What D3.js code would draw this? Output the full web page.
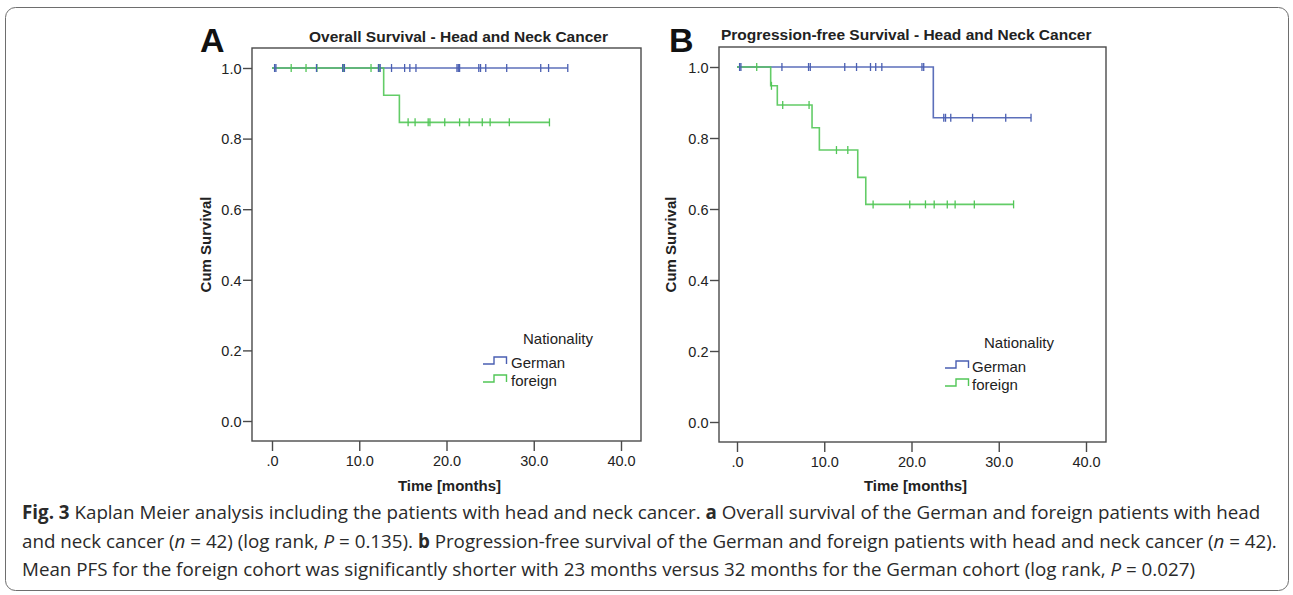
<!DOCTYPE html>
<html><head><meta charset="utf-8">
<script src="https://cdn.jsdelivr.net/npm/d3@7"></script>
<style>body{margin:0;background:#fff}svg{display:block}</style>
</head><body>
<svg id="c" width="1293" height="595"></svg>
<script>
// ---------- data ----------
const groups = ["German", "foreign"];
const xTickValues = [0, 10, 20, 30, 40];
const xTickLabels = [".0", "10.0", "20.0", "30.0", "40.0"];
const yTickValues = [0, 0.2, 0.4, 0.6, 0.8, 1.0];
const yTickLabels = ["0.0", "0.2", "0.4", "0.6", "0.8", "1.0"];

// Panel A: overall survival
const osGermanStepTimes = [0];
const osGermanStepSurv = [1.0];
const osGermanEnd = 33.9;
const osGermanCensor = [0.3, 0.45, 5.1, 8.1, 8.3, 12.2, 12.4, 13.7, 15.2, 15.8, 16.5, 21.2, 21.35, 21.5, 23.7, 23.9, 24.5, 26.9, 30.8, 31.7, 33.9];
const osForeignStepTimes = [0, 12.8, 14.6];
const osForeignStepSurv = [1.0, 0.923, 0.846];
const osForeignEnd = 31.8;
const osForeignCensor = [0.3, 2.2, 3.9, 5.15, 8.2, 11.35, 12.3, 15.6, 16.4, 17.9, 18.1, 19.8, 21.5, 22.6, 24.1, 25.0, 27.2, 31.8];

// Panel B: progression-free survival
const pfsGermanStepTimes = [0, 22.5];
const pfsGermanStepSurv = [1.0, 0.857];
const pfsGermanEnd = 33.7;
const pfsGermanCensor = [0.3, 0.45, 5.15, 8.2, 8.4, 12.35, 13.7, 15.3, 15.9, 16.6, 21.2, 21.4, 23.7, 23.9, 24.5, 27.0, 30.8, 33.7];
const pfsForeignStepTimes = [0, 3.86, 4.62, 8.6, 9.44, 13.84, 14.76];
const pfsForeignStepSurv = [1.0, 0.947, 0.893, 0.829, 0.766, 0.689, 0.613];
const pfsForeignEnd = 31.7;
const pfsForeignCensor = [0.3, 2.26, 3.95, 5.24, 8.26, 11.4, 12.7, 15.6, 19.8, 21.6, 22.6, 24.1, 25.0, 27.2, 31.7];

const titles = ["Overall Survival - Head and Neck Cancer", "Progression-free Survival - Head and Neck Cancer"];
const panelLetters = ["A", "B"];

// ---------- drawing ----------
const colors = {German: "#4a5fb2", foreign: "#52c657"};
const svg = d3.select("#c");
const FONT = "'Liberation Sans', Arial, sans-serif";

// figure border
svg.append("rect").attr("x", 5.5).attr("y", 7.5).attr("width", 1283).attr("height", 583)
  .attr("rx", 10).attr("fill", "none").attr("stroke", "#6e6e6e").attr("stroke-width", 1);

const panels = [
  {frame: [252, 48, 641, 441], x0: 272, x40: 621, y0: 421, y1: 68, letterX: 200, titleX: 309, titleY: 41.5,
   ylabX: 210.5, legX: 483, legTextX: 511, legNatX: 523, legY: 343.5,
   series: {German: [osGermanStepTimes, osGermanStepSurv, osGermanEnd, osGermanCensor],
            foreign: [osForeignStepTimes, osForeignStepSurv, osForeignEnd, osForeignCensor]}},
  {frame: [719, 47, 1106, 442], x0: 737, x40: 1086, y0: 422, y1: 67, letterX: 669, titleX: 721, titleY: 40,
   ylabX: 676, legX: 945, legTextX: 972, legNatX: 984, legY: 347.5,
   series: {German: [pfsGermanStepTimes, pfsGermanStepSurv, pfsGermanEnd, pfsGermanCensor],
            foreign: [pfsForeignStepTimes, pfsForeignStepSurv, pfsForeignEnd, pfsForeignCensor]}}
];

panels.forEach((p, i) => {
  const g = svg.append("g");
  const [fl, ft, fr, fb] = p.frame;
  const x = d3.scaleLinear().domain([0, 40]).range([p.x0, p.x40]);
  const y = d3.scaleLinear().domain([0, 1]).range([p.y0, p.y1]);

  // frame
  g.append("rect").attr("x", fl).attr("y", ft).attr("width", fr - fl).attr("height", fb - ft)
    .attr("fill", "none").attr("stroke", "#4a4a4a").attr("stroke-width", 1.4);

  // x axis
  const xAxis = d3.axisBottom(x).tickValues(xTickValues).tickSize(10).tickSizeOuter(0)
    .tickFormat((d, k) => xTickLabels[k]);
  const gx = g.append("g").attr("transform", `translate(0,${fb})`).call(xAxis);
  gx.select(".domain").remove();
  gx.selectAll("line").attr("stroke", "#4a4a4a").attr("stroke-width", 1.4);
  gx.selectAll("text").attr("font-family", FONT).attr("font-size", 14.5).attr("fill", "#222").attr("dy", null).attr("y", 24.5);

  // y axis
  const yAxis = d3.axisLeft(y).tickValues(yTickValues).tickSize(9).tickSizeOuter(0)
    .tickFormat((d, k) => yTickLabels[k]);
  const gy = g.append("g").attr("transform", `translate(${fl},0)`).call(yAxis);
  gy.select(".domain").remove();
  gy.selectAll("line").attr("stroke", "#4a4a4a").attr("stroke-width", 1.4);
  gy.selectAll("text").attr("font-family", FONT).attr("font-size", 14.5).attr("fill", "#222")
    .attr("x", -10.5).attr("dy", "0.36em");

  // titles
  g.append("text").attr("x", p.letterX).attr("y", 52).attr("font-family", FONT)
    .attr("font-weight", "bold").attr("font-size", 34).attr("fill", "#111").text(panelLetters[i]);
  g.append("text").attr("x", p.titleX).attr("y", p.titleY).attr("font-family", FONT)
    .attr("font-weight", "bold").attr("font-size", 15.5).attr("fill", "#222").text(titles[i]);
  g.append("text").attr("x", (fl + fr) / 2 + 3).attr("y", 491).attr("text-anchor", "middle")
    .attr("font-family", FONT).attr("font-weight", "bold").attr("font-size", 15).attr("fill", "#222")
    .text("Time [months]");
  g.append("text").attr("transform", `translate(${p.ylabX},${(p.y0 + p.y1) / 2}) rotate(-90)`)
    .attr("text-anchor", "middle").attr("font-family", FONT).attr("font-weight", "bold")
    .attr("font-size", 15).attr("fill", "#222").text("Cum Survival");

  // curves
  const line = d3.line().x(d => x(d[0])).y(d => y(d[1])).curve(d3.curveStepAfter);
  groups.forEach(gr => {
    const [st, ss, end] = p.series[gr];
    const pts = st.map((t, k) => [t, ss[k]]);
    pts.push([end, ss[ss.length - 1]]);
    g.append("path").attr("d", line(pts)).attr("fill", "none").attr("stroke", colors[gr])
      .attr("stroke-width", 1.6).attr("opacity", 0.9);
  });
  // censor marks
  ["foreign", "German"].forEach(gr => {
    const [st, ss, , cens] = p.series[gr];
    const survAt = t => { let s = ss[0]; st.forEach((tt, k) => { if (tt <= t) s = ss[k]; }); return s; };
    g.selectAll(null).data(cens).enter().append("line")
      .attr("x1", d => x(d)).attr("x2", d => x(d))
      .attr("y1", d => y(survAt(d)) - 4).attr("y2", d => y(survAt(d)) + 4)
      .attr("stroke", colors[gr]).attr("stroke-width", 1.3);
  });

  // legend
  g.append("text").attr("x", p.legNatX).attr("y", p.legY).attr("font-family", FONT)
    .attr("font-size", 15).attr("fill", "#222").text("Nationality");
  groups.forEach((gr, k) => {
    const ly = p.legY + 24 + k * 18;
    const low = ly - 3.5, high = ly - 10.5;
    g.append("path").attr("d", `M${p.legX},${low}H${p.legX + 11}V${high}H${p.legX + 23.5}V${low}`)
      .attr("fill", "none").attr("stroke", colors[gr]).attr("stroke-width", 1.4);
    g.append("text").attr("x", p.legTextX).attr("y", ly).attr("font-family", FONT)
      .attr("font-size", 15).attr("fill", "#222").text(gr);
  });
});

// ---------- caption ----------
const captionLines = [
  [["Fig. 3", "b"], [" Kaplan Meier analysis including the patients with head and neck cancer. ", ""], ["a", "b"], [" Overall survival of the German and foreign patients with head", ""]],
  [["and neck cancer (", ""], ["n", "i"], [" = 42) (log rank, ", ""], ["P", "i"], [" = 0.135). ", ""], ["b", "b"], [" Progression-free survival of the German and foreign patients with head and neck cancer (", ""], ["n", "i"], [" = 42).", ""]],
  [["Mean PFS for the foreign cohort was significantly shorter with 23 months versus 32 months for the German cohort (log rank, ", ""], ["P", "i"], [" = 0.027)", ""]]
];
const capY = [519, 548, 576];
const capTexts = captionLines.map((segs, li) => {
  const t = svg.append("text").attr("x", 22).attr("y", capY[li])
    .attr("font-family", "'Open Sans', sans-serif").attr("font-size", 18).attr("fill", "#2a2a2a")
    .attr("xml:space", "preserve").style("white-space", "pre");
  segs.forEach(([s, st]) => {
    const ts = t.append("tspan").text(s);
    if (st === "b") ts.attr("font-weight", "bold");
    if (st === "i") ts.attr("font-style", "italic");
  });
  return t;
});
// scale the caption font so that line 2 spans the measured width
const w2 = capTexts[1].node().getComputedTextLength();
const fs = 18 * (1278 - 22) / w2;
capTexts.forEach(t => t.attr("font-size", fs));
</script>
</body></html>
